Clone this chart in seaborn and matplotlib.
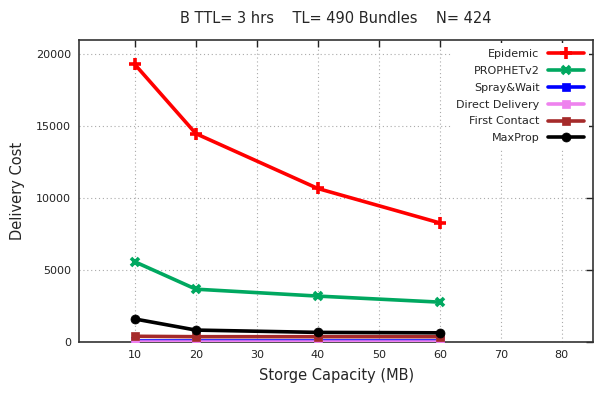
import pandas as pd
import matplotlib
matplotlib.use("Agg")
import matplotlib.pyplot as plt
import seaborn as sns

# ------------------------------
# Data
# ------------------------------
capacity = [10, 20, 40, 60]
epidemic = [19250, 14450, 10640, 8250]
prophet = [5550, 3650, 3170, 2750]
spray_wait = [30, 30, 30, 30]
direct_delivery = [0, 0, 0, 0]
first_contact = [380, 350, 350, 350]
maxprop = [1580, 810, 650, 620]

series = {
    "Epidemic": epidemic,
    "PROPHETv2": prophet,
    "Spray&Wait": spray_wait,
    "Direct Delivery": direct_delivery,
    "First Contact": first_contact,
    "MaxProp": maxprop,
}
# colour, marker, marker size, marker edge width
styles = {
    "Epidemic": ("#ff0000", "+", 9, 2.6),
    "PROPHETv2": ("#00a860", "x", 6, 2.6),
    "Spray&Wait": ("#0000ff", "s", 6, 0.5),
    "Direct Delivery": ("#ee82ee", "s", 6, 0.5),
    "First Contact": ("#a52a2a", "s", 6, 0.5),
    "MaxProp": ("#000000", "o", 6.5, 0.5),
}

df = pd.DataFrame(
    [(name, x, y) for name, vals in series.items() for x, y in zip(capacity, vals)],
    columns=["protocol", "capacity", "cost"],
)

sns.set_style("white")
plt.rcParams["font.family"] = ["DejaVu Sans"]

fig = plt.figure(figsize=(5.97, 3.96), dpi=100)
ax = fig.add_axes([0.133, 0.137, 0.860, 0.762])

for name in series:
    color, marker, ms, mew = styles[name]
    sub = df[df["protocol"] == name]
    sns.lineplot(data=sub, x="capacity", y="cost", ax=ax, label=name,
                 color=color, marker=marker, markersize=ms, linewidth=2.6,
                 markeredgewidth=mew, markeredgecolor=color, zorder=3)

ax.set_xlim(0.9, 85.1)
ax.set_ylim(0, 20950)
ax.set_xticks(range(10, 90, 10))
ax.set_yticks(range(0, 20001, 5000))
ax.grid(True, color="#aaaaaa", linestyle=(0, (1, 2.5)), linewidth=0.8, zorder=0)
ax.tick_params(direction="in", length=5, width=1, top=True, right=True,
               labelsize=8, colors="#222222", pad=6)
for s in ax.spines.values():
    s.set_color("#333333")
    s.set_linewidth(1.2)

ax.set_xlabel("Storge Capacity (MB)", fontsize=10.5, labelpad=6)
ax.set_ylabel("Delivery Cost", fontsize=10.5, labelpad=8)
ax.set_title("B TTL= 3 hrs    TL= 490 Bundles    N= 424", fontsize=10.5, pad=12)

leg = ax.legend(loc="upper right", markerfirst=False, frameon=True, fontsize=8,
                handlelength=3.2, labelspacing=0.62, borderaxespad=0.3,
                fancybox=False, framealpha=1, borderpad=0.5)
leg.get_frame().set_edgecolor("white")
leg.get_frame().set_linewidth(0)
leg.set_zorder(5)

fig.savefig("out.png", dpi=100)
